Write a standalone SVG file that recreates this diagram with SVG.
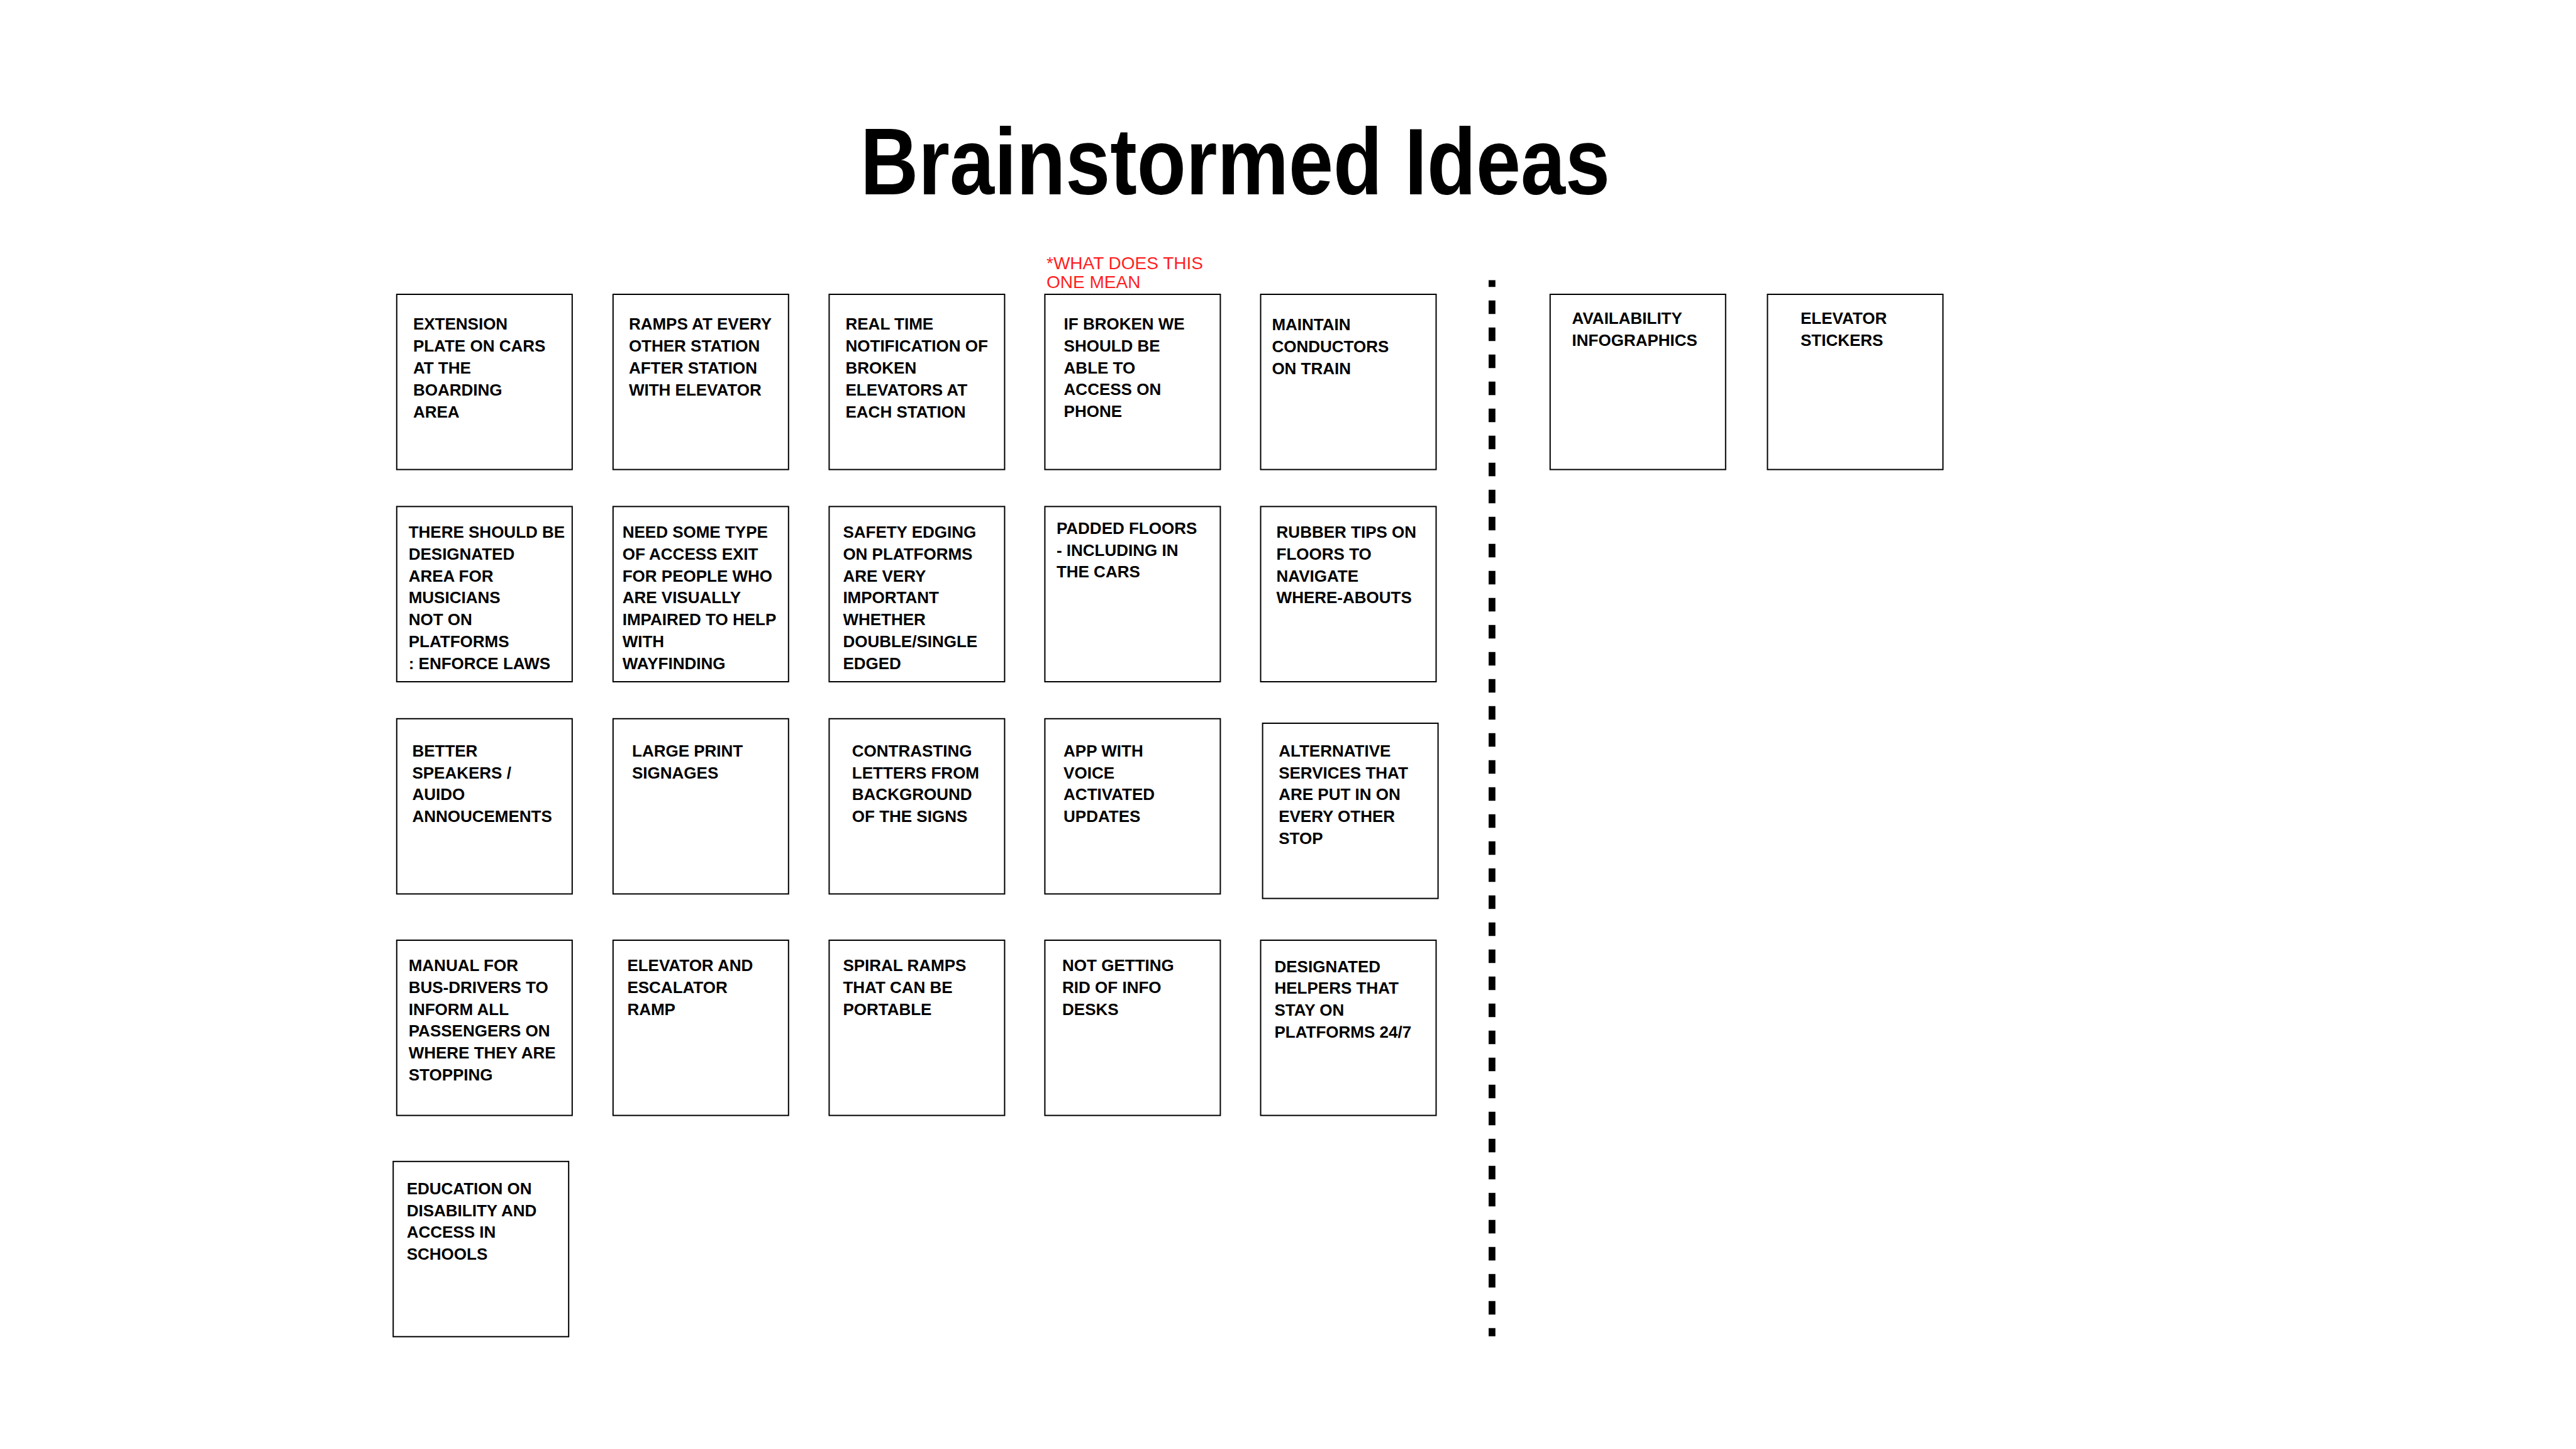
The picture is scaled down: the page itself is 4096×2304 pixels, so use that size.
<svg xmlns="http://www.w3.org/2000/svg" width="4096" height="2304" viewBox="0 0 4096 2304">
<style>
.box{fill:#fff;stroke:#000;stroke-width:2}
.t{font-family:"Liberation Sans",Arial,sans-serif;font-weight:bold;font-size:26px;fill:#000}
.title{font-family:"Liberation Sans",Arial,sans-serif;font-weight:bold;font-size:150px;fill:#000}
.note{font-family:"Liberation Sans",Arial,sans-serif;font-size:28px;fill:#ff1f1f}
.divider{stroke:#000;stroke-width:10.75;stroke-dasharray:21.5 21.5;stroke-dashoffset:10.75;fill:none}
</style>
<rect x="0" y="0" width="4096" height="2304" fill="#fff"/>
<text class="title" x="1368" y="309" textLength="1192" lengthAdjust="spacingAndGlyphs">Brainstormed Ideas</text>
<text class="note" x="1664" y="428"><tspan x="1664" y="428">*WHAT DOES THIS</tspan><tspan x="1664" y="458">ONE MEAN</tspan></text>
<g id="connectors">
<line class="divider" x1="2372.4" y1="445.4" x2="2372.4" y2="2124.8"/>
</g>
<g id="n1"><rect class="box" x="630.8" y="468" width="279" height="278.6"/><text class="t"><tspan x="656.9" y="524.3">EXTENSION</tspan><tspan x="656.9" y="559.1">PLATE ON CARS</tspan><tspan x="656.9" y="593.9">AT THE</tspan><tspan x="656.9" y="628.7">BOARDING</tspan><tspan x="656.9" y="663.6">AREA</tspan></text></g>
<g id="n2"><rect class="box" x="974.8" y="468" width="279" height="278.6"/><text class="t"><tspan x="999.9" y="524.3">RAMPS AT EVERY</tspan><tspan x="999.9" y="559.1">OTHER STATION</tspan><tspan x="999.9" y="593.9">AFTER STATION</tspan><tspan x="999.9" y="628.7">WITH ELEVATOR</tspan></text></g>
<g id="n3"><rect class="box" x="1318.4" y="468" width="279" height="278.6"/><text class="t"><tspan x="1344.5" y="524.3">REAL TIME</tspan><tspan x="1344.5" y="559.1">NOTIFICATION OF</tspan><tspan x="1344.5" y="593.9">BROKEN</tspan><tspan x="1344.5" y="628.7">ELEVATORS AT</tspan><tspan x="1344.5" y="663.6">EACH STATION</tspan></text></g>
<g id="n4"><rect class="box" x="1661.4" y="468" width="279" height="278.6"/><text class="t"><tspan x="1691.6" y="524">IF BROKEN WE</tspan><tspan x="1691.6" y="558.8">SHOULD BE</tspan><tspan x="1691.6" y="593.6">ABLE TO</tspan><tspan x="1691.6" y="628.4">ACCESS ON</tspan><tspan x="1691.6" y="663.2">PHONE</tspan></text></g>
<g id="n5"><rect class="box" x="2004.5" y="468" width="279" height="278.6"/><text class="t"><tspan x="2022.4" y="525.3">MAINTAIN</tspan><tspan x="2022.4" y="560.1">CONDUCTORS</tspan><tspan x="2022.4" y="594.9">ON TRAIN</tspan></text></g>
<g id="n6"><rect class="box" x="2464.8" y="468" width="279" height="278.6"/><text class="t"><tspan x="2499.6" y="515">AVAILABILITY</tspan><tspan x="2499.6" y="549.9">INFOGRAPHICS</tspan></text></g>
<g id="n7"><rect class="box" x="2810.4" y="468" width="279" height="278.6"/><text class="t"><tspan x="2863" y="515">ELEVATOR</tspan><tspan x="2863" y="549.9">STICKERS</tspan></text></g>
<g id="n8"><rect class="box" x="630.8" y="805.4" width="279" height="278.6"/><text class="t"><tspan x="649.7" y="855.3">THERE SHOULD BE</tspan><tspan x="649.7" y="890">DESIGNATED</tspan><tspan x="649.7" y="924.7">AREA FOR</tspan><tspan x="649.7" y="959.4">MUSICIANS</tspan><tspan x="649.7" y="994.1">NOT ON</tspan><tspan x="649.7" y="1028.8">PLATFORMS</tspan><tspan x="649.7" y="1063.5">: ENFORCE LAWS</tspan></text></g>
<g id="n9"><rect class="box" x="974.8" y="805.4" width="279" height="278.6"/><text class="t"><tspan x="989.7" y="855.3">NEED SOME TYPE</tspan><tspan x="989.7" y="890">OF ACCESS EXIT</tspan><tspan x="989.7" y="924.7">FOR PEOPLE WHO</tspan><tspan x="989.7" y="959.4">ARE VISUALLY</tspan><tspan x="989.7" y="994.1">IMPAIRED TO HELP</tspan><tspan x="989.7" y="1028.8">WITH</tspan><tspan x="989.7" y="1063.5">WAYFINDING</tspan></text></g>
<g id="n10"><rect class="box" x="1318.4" y="805.4" width="279" height="278.6"/><text class="t"><tspan x="1340.4" y="855.3">SAFETY EDGING</tspan><tspan x="1340.4" y="890">ON PLATFORMS</tspan><tspan x="1340.4" y="924.7">ARE VERY</tspan><tspan x="1340.4" y="959.4">IMPORTANT</tspan><tspan x="1340.4" y="994.1">WHETHER</tspan><tspan x="1340.4" y="1028.8">DOUBLE/SINGLE</tspan><tspan x="1340.4" y="1063.5">EDGED</tspan></text></g>
<g id="n11"><rect class="box" x="1661.4" y="805.4" width="279" height="278.6"/><text class="t"><tspan x="1679.9" y="848.9">PADDED FLOORS</tspan><tspan x="1679.9" y="883.6">- INCLUDING IN</tspan><tspan x="1679.9" y="918.3">THE CARS</tspan></text></g>
<g id="n12"><rect class="box" x="2004.5" y="805.4" width="279" height="278.6"/><text class="t"><tspan x="2029.6" y="855.3">RUBBER TIPS ON</tspan><tspan x="2029.6" y="890">FLOORS TO</tspan><tspan x="2029.6" y="924.7">NAVIGATE</tspan><tspan x="2029.6" y="959.4">WHERE-ABOUTS</tspan></text></g>
<g id="n13"><rect class="box" x="630.8" y="1142.8" width="279" height="278.6"/><text class="t"><tspan x="655.4" y="1203">BETTER</tspan><tspan x="655.4" y="1237.7">SPEAKERS /</tspan><tspan x="655.4" y="1272.4">AUIDO</tspan><tspan x="655.4" y="1307.1">ANNOUCEMENTS</tspan></text></g>
<g id="n14"><rect class="box" x="974.8" y="1142.8" width="279" height="278.6"/><text class="t"><tspan x="1005" y="1203">LARGE PRINT</tspan><tspan x="1005" y="1237.7">SIGNAGES</tspan></text></g>
<g id="n15"><rect class="box" x="1318.4" y="1142.8" width="279" height="278.6"/><text class="t"><tspan x="1354.8" y="1203">CONTRASTING</tspan><tspan x="1354.8" y="1237.7">LETTERS FROM</tspan><tspan x="1354.8" y="1272.4">BACKGROUND</tspan><tspan x="1354.8" y="1307.1">OF THE SIGNS</tspan></text></g>
<g id="n16"><rect class="box" x="1661.4" y="1142.8" width="279" height="278.6"/><text class="t"><tspan x="1691.1" y="1203">APP WITH</tspan><tspan x="1691.1" y="1237.7">VOICE</tspan><tspan x="1691.1" y="1272.4">ACTIVATED</tspan><tspan x="1691.1" y="1307.1">UPDATES</tspan></text></g>
<g id="n17"><rect class="box" x="2007.6" y="1150" width="279" height="278.6"/><text class="t"><tspan x="2033.2" y="1203">ALTERNATIVE</tspan><tspan x="2033.2" y="1237.7">SERVICES THAT</tspan><tspan x="2033.2" y="1272.4">ARE PUT IN ON</tspan><tspan x="2033.2" y="1307.1">EVERY OTHER</tspan><tspan x="2033.2" y="1341.8">STOP</tspan></text></g>
<g id="n18"><rect class="box" x="630.8" y="1495" width="279" height="278.6"/><text class="t"><tspan x="649.7" y="1544.2">MANUAL FOR</tspan><tspan x="649.7" y="1578.9">BUS-DRIVERS TO</tspan><tspan x="649.7" y="1613.6">INFORM ALL</tspan><tspan x="649.7" y="1648.3">PASSENGERS ON</tspan><tspan x="649.7" y="1683">WHERE THEY ARE</tspan><tspan x="649.7" y="1717.7">STOPPING</tspan></text></g>
<g id="n19"><rect class="box" x="974.8" y="1495" width="279" height="278.6"/><text class="t"><tspan x="997.4" y="1544.2">ELEVATOR AND</tspan><tspan x="997.4" y="1578.9">ESCALATOR</tspan><tspan x="997.4" y="1613.6">RAMP</tspan></text></g>
<g id="n20"><rect class="box" x="1318.4" y="1495" width="279" height="278.6"/><text class="t"><tspan x="1340.4" y="1544.2">SPIRAL RAMPS</tspan><tspan x="1340.4" y="1578.9">THAT CAN BE</tspan><tspan x="1340.4" y="1613.6">PORTABLE</tspan></text></g>
<g id="n21"><rect class="box" x="1661.4" y="1495" width="279" height="278.6"/><text class="t"><tspan x="1689.1" y="1544.2">NOT GETTING</tspan><tspan x="1689.1" y="1578.9">RID OF INFO</tspan><tspan x="1689.1" y="1613.6">DESKS</tspan></text></g>
<g id="n22"><rect class="box" x="2004.5" y="1495" width="279" height="278.6"/><text class="t"><tspan x="2026.5" y="1545.7">DESIGNATED</tspan><tspan x="2026.5" y="1580.4">HELPERS THAT</tspan><tspan x="2026.5" y="1615.1">STAY ON</tspan><tspan x="2026.5" y="1649.8">PLATFORMS 24/7</tspan></text></g>
<g id="n23"><rect class="box" x="625.2" y="1846.8" width="279" height="278.6"/><text class="t"><tspan x="646.7" y="1899">EDUCATION ON</tspan><tspan x="646.7" y="1933.7">DISABILITY AND</tspan><tspan x="646.7" y="1968.4">ACCESS IN</tspan><tspan x="646.7" y="2003.1">SCHOOLS</tspan></text></g>
</svg>
